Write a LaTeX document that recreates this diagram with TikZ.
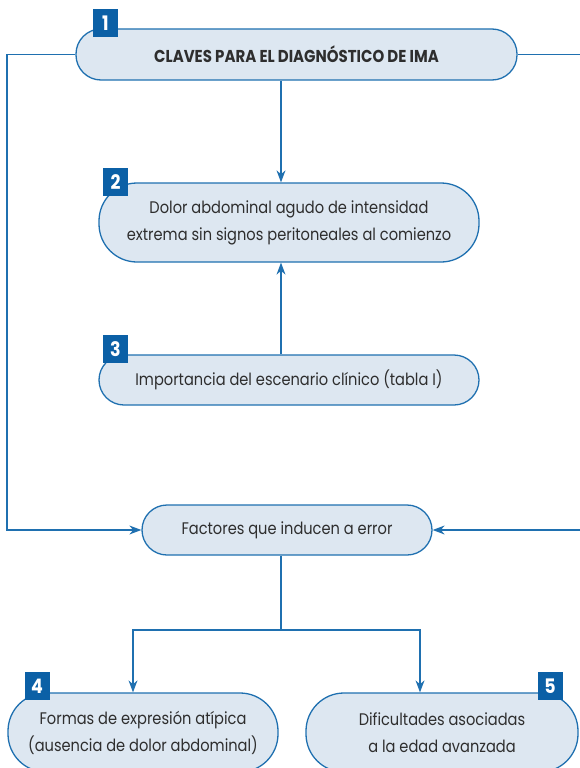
\documentclass[tikz,border=0pt]{standalone}
\usepackage{fontspec}
\setmainfont[FakeStretch=0.87]{Poppins}
\usetikzlibrary{arrows.meta}
\definecolor{lineblue}{HTML}{1F70B0}
\definecolor{boxfill}{HTML}{DDE7F1}
\definecolor{numblue}{HTML}{0B60A6}
\definecolor{txt}{HTML}{2E2E2E}
\begin{document}
\begin{tikzpicture}[x=1pt,y=-1pt,
  box/.style={draw=lineblue, line width=1.3pt, fill=boxfill, text=txt, align=center,
    font=\fontsize{16.8}{27}\selectfont, inner sep=0pt},
  num/.style={fill=numblue, text=white, font=\bfseries\fontsize{20}{20}\selectfont,
    minimum width=25pt, minimum height=28pt, inner sep=0pt},
  conn/.style={draw=lineblue, line width=1.2pt},
  arr/.style={conn, -{Stealth[length=12pt,width=9pt]}}]
\clip (0,0) rectangle (580,768);
% boxes
\node[box, minimum width=441pt, minimum height=51pt, rounded corners=25pt] (b1) at (296.5,54.5)
  {\bfseries\fontsize{17.2}{20}\selectfont CLAVES PARA EL DIAGNÓSTICO DE IMA};
\node[box, minimum width=380pt, minimum height=79pt, rounded corners=38pt] (b2) at (289,222.5)
  {Dolor abdominal agudo de intensidad\\extrema sin signos peritoneales al comienzo};
\node[box, minimum width=380pt, minimum height=50pt, rounded corners=25pt] (b3) at (289,380)
  {Importancia del escenario clínico (tabla I)};
\node[box, minimum width=290pt, minimum height=50pt, rounded corners=25pt] (bF) at (287,530)
  {Factores que inducen a error};
\node[box, minimum width=270pt, minimum height=79pt, rounded corners=38pt] (b4) at (143,732.5)
  {Formas de expresión atípica\\(ausencia de dolor abdominal)};
\node[box, minimum width=272pt, minimum height=79pt, rounded corners=38pt] (b5) at (442,732.5)
  {Dificultades asociadas\\a la edad avanzada};
% numbers
\node[num] (n1) at (105.5,23) {1};
\node[num] (n2) at (115.5,182) {2};
\node[num] (n3) at (115.5,349) {3};
\node[num] (n4) at (37,686) {4};
\node[num] (n5) at (550,686) {5};
% helper coordinates
\coordinate (c1) at (281,0);
\coordinate (L) at (7,0);
\coordinate (R) at (582,0);
\coordinate (J) at (281,630);
\coordinate (A4) at (133,0);
\coordinate (A5) at (420,0);
% connectors
\draw[arr] (c1 |- b1.south) -- (c1 |- b2.north);
\draw[arr] (c1 |- b3.north) -- (c1 |- b2.south);
\draw[arr] (b1.west) -| (L |- bF.west) -- (bF.west);
\draw[conn] (b1.east) -- (R |- b1.east);
\draw[arr] (R |- bF.east) -- (bF.east);
\draw[conn] (c1 |- bF.south) -- (J);
\draw[arr] (J) -| (A4 |- b4.north);
\draw[arr] (J) -| (A5 |- b5.north);
\end{tikzpicture}
\end{document}
